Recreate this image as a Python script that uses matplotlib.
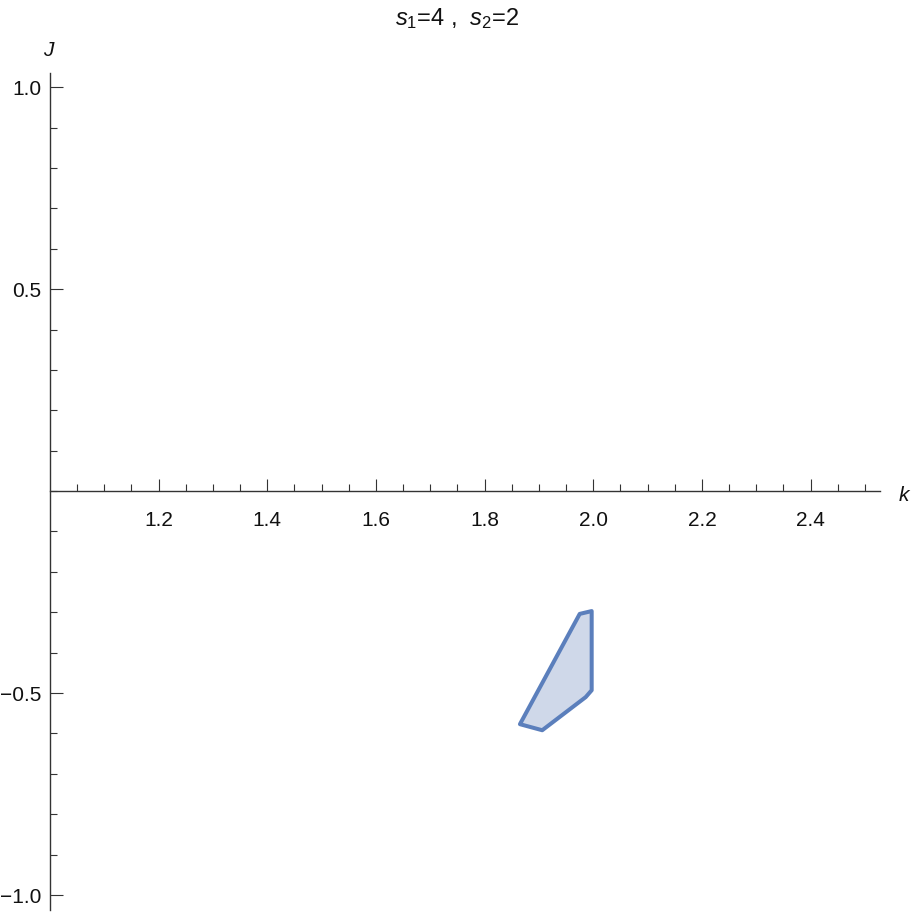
import matplotlib
matplotlib.use("Agg")
import matplotlib.pyplot as plt
import numpy as np
from matplotlib.ticker import MultipleLocator, FixedLocator

# region vertices (k, J)
k_vals = [1.975, 1.997, 1.997, 1.986, 1.906, 1.865]
j_vals = [-0.304, -0.297, -0.493, -0.510, -0.592, -0.577]

x_ticks = [1.2, 1.4, 1.6, 1.8, 2.0, 2.2, 2.4]
y_ticks = [-1.0, -0.5, 0.5, 1.0]

LINE = "#5B7FBC"
FILL = "#CFD8E9"
AXIS = "#333333"
TXT = "#111111"

plt.rcParams["font.family"] = ["Liberation Sans", "DejaVu Sans"]
plt.rcParams["mathtext.fontset"] = "custom"
plt.rcParams["mathtext.rm"] = "Liberation Sans"
plt.rcParams["mathtext.it"] = "Liberation Sans:italic"

fig = plt.figure(figsize=(9.13, 9.17), dpi=100)
ax = fig.add_axes([50 / 913, 7 / 917, 830 / 913, 837 / 917])
ax.set_xlim(1.0, 1.0 + 830 / 543.3)
ax.set_ylim(-1.037, 1.035)

ax.fill(k_vals, j_vals, facecolor=FILL, edgecolor=LINE, linewidth=2.9,
        joinstyle="round")

for s in ["top", "right"]:
    ax.spines[s].set_visible(False)
ax.spines["bottom"].set_position(("data", 0))
ax.spines["left"].set_position(("data", 1.0))
for s in ["bottom", "left"]:
    ax.spines[s].set_color(AXIS)
    ax.spines[s].set_linewidth(1.0)

ax.xaxis.set_major_locator(FixedLocator(x_ticks))
ax.xaxis.set_minor_locator(FixedLocator(np.arange(1.05, 2.51, 0.05)))
ax.yaxis.set_major_locator(FixedLocator(y_ticks))
ax.yaxis.set_minor_locator(MultipleLocator(0.1))
ax.set_xticklabels([f"{v:.1f}" for v in x_ticks])
ax.set_yticklabels([f"{v:.1f}".replace("-", "\u2212") for v in y_ticks])

ax.tick_params(which="both", direction="in", color=AXIS, width=0.8,
               labelsize=15, labelcolor=TXT)
ax.tick_params(which="major", length=9)
ax.tick_params(which="minor", length=5)
ax.tick_params(axis="x", pad=14)
ax.tick_params(axis="y", pad=6)

ax.text(2.571, -0.01, "k", style="italic", fontsize=15, color=TXT,
        ha="center", va="center", clip_on=False)
ax.text(0.997, 1.09, "J", style="italic", fontsize=15, color=TXT,
        ha="center", va="center", clip_on=False)

fig.text(457 / 913, 1 - 19 / 917,
         r"$s_{\mathrm{1}}$=4 ,  $s_{\mathrm{2}}$=2",
         fontsize=17, ha="center", va="center", color=TXT)

fig.savefig("out.png", dpi=100, facecolor="white")
